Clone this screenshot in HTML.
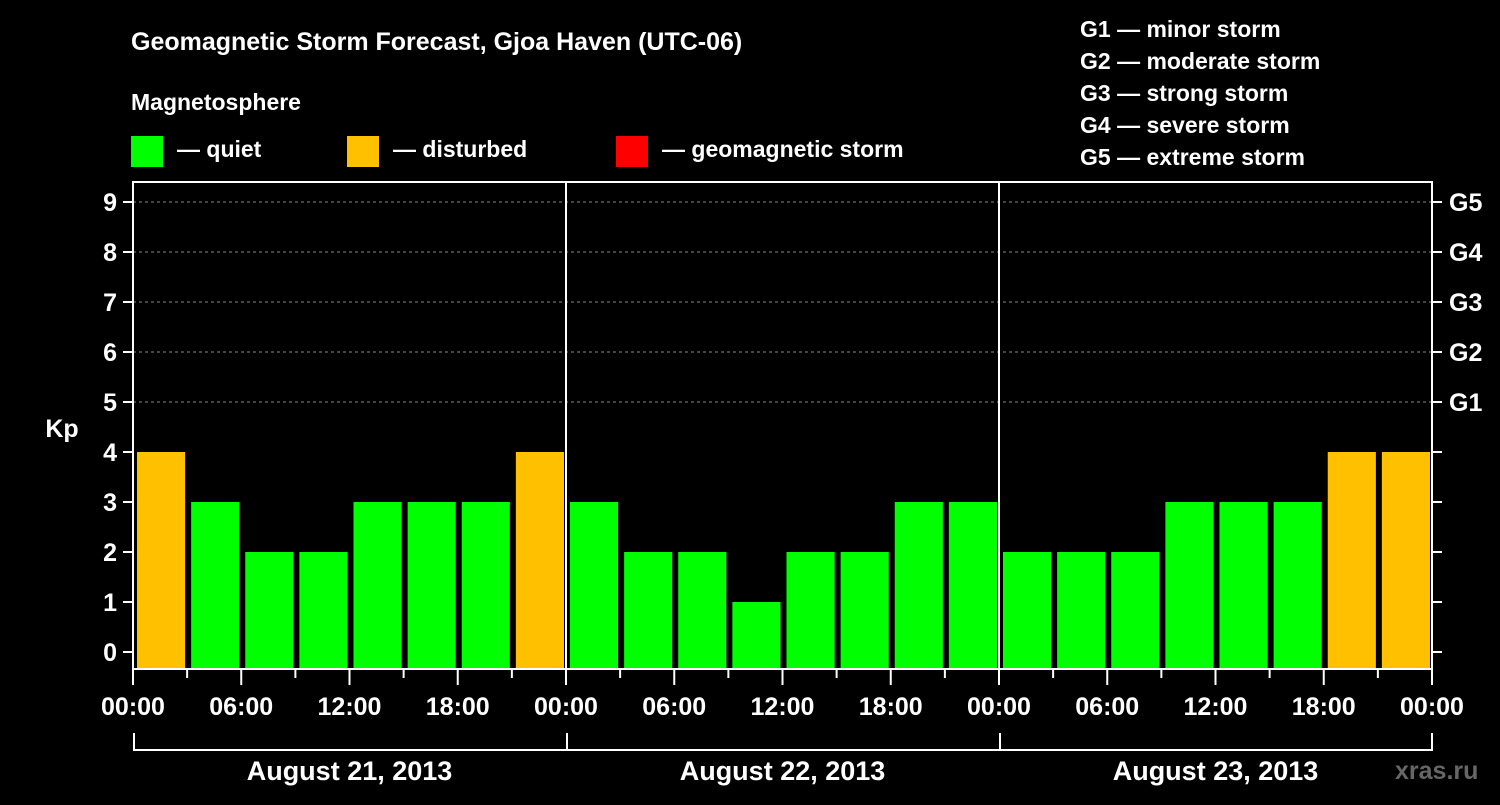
<!DOCTYPE html>
<html><head><meta charset="utf-8"><style>
body{margin:0;background:#000;width:1500px;height:800px;overflow:hidden}
svg{font-family:"Liberation Sans",sans-serif;font-weight:bold;fill:#fff}
</style></head><body>
<svg id="c" width="1500" height="800">
<text x="131" y="50" font-size="25">Geomagnetic Storm Forecast, Gjoa Haven (UTC-06)</text>
<text x="131" y="110" font-size="23">Magnetosphere</text>
<g><rect x="131" y="136" width="32" height="31" fill="#00ff00"/><text x="177" y="157" font-size="23">— quiet</text></g>
<g><rect x="347" y="136" width="32" height="31" fill="#ffc000"/><text x="393" y="157" font-size="23">— disturbed</text></g>
<g><rect x="616" y="136" width="32" height="31" fill="#ff0000"/><text x="662" y="157" font-size="23">— geomagnetic storm</text></g>
<g font-size="23">
<text x="1080" y="37">G1 — minor storm</text><text x="1080" y="69">G2 — moderate storm</text><text x="1080" y="101">G3 — strong storm</text><text x="1080" y="133">G4 — severe storm</text><text x="1080" y="165">G5 — extreme storm</text>
</g>
<text x="62" y="437" font-size="25" text-anchor="middle">Kp</text>
<text x="1395" y="779" font-size="25" fill="#555" style="fill:#666">xras.ru</text>
<g id="plot"></g>
</svg>
<script>
const days=["August 21, 2013","August 22, 2013","August 23, 2013"];
const kp=[4,3,2,2,3,3,3,4, 3,2,2,1,2,2,3,3, 2,2,2,3,3,3,4,4];
const yTicks=[0,1,2,3,4,5,6,7,8,9];
const gLabels=["G1","G2","G3","G4","G5"];
const xLabels=["00:00","06:00","12:00","18:00"];
const NS="http://www.w3.org/2000/svg";
const L=133,R=1432,T=182,B=669;
const y=v=>652-v*50;
const dayW=(R-L)/days.length, slot=dayW/8;
const x=i=>L+i*slot;
const g=document.getElementById('plot');
function mk(t,a){const e=document.createElementNS(NS,t);for(const k in a)e.setAttribute(k,a[k]);g.appendChild(e);return e;}
yTicks.forEach(v=>{
 if(v>=5){const e=mk('line',{x1:L,x2:R,y1:y(v),y2:y(v),stroke:'#888','stroke-dasharray':'3,3','stroke-width':1});
 
 }
 const t=mk('line',{x1:L-10,x2:L,y1:y(v),y2:y(v),stroke:'#fff','stroke-width':2});
 
 
 const t2=mk('line',{x1:R,x2:R+10,y1:y(v),y2:y(v),stroke:'#fff','stroke-width':2});
 
 
 const l=mk('text',{x:L-16,y:y(v)+9,'font-size':25,'text-anchor':'end'});l.textContent=v;
 
 
});
gLabels.forEach((s,i)=>{const l=mk('text',{x:R+17,y:y(5+i)+9,'font-size':25});l.textContent=s;
 
 });
kp.forEach((v,i)=>{
 const r=mk('rect',{x:x(i)+4,y:y(v),width:slot-6,height:B-1-y(v),fill:v>=5?'#ff0000':v>=4?'#ffc000':'#00ff00'});
 
 
});
for(let d=1;d<days.length;d++){const e=mk('line',{x1:L+d*dayW,x2:L+d*dayW,y1:T,y2:B,stroke:'#fff','stroke-width':2});
 
 }
const f=mk('rect',{x:L,y:T,width:R-L,height:B-T,fill:'none',stroke:'#fff','stroke-width':2});


for(let i=0;i<=kp.length;i++){
 const major=i%2==0;
 const t=mk('line',{x1:x(i),x2:x(i),y1:B,y2:B+(major?16:9),stroke:'#fff','stroke-width':2});
 
 
 if(major){const l=mk('text',{x:x(i),y:715,'font-size':25,'text-anchor':'middle'});
 l.textContent=xLabels[(i/2)%4];
 
 }
}
days.forEach((s,d)=>{
 const x0=L+d*dayW;
 const p=mk('path',{d:`M${x0+1},733V750H${x0+dayW}`+(d==days.length-1?'V733':''),stroke:'#fff','stroke-width':2,fill:'none'});
 
 
 const l=mk('text',{x:x0+dayW/2,y:780,'font-size':27,'text-anchor':'middle'});l.textContent=s;
 
 
});
</script>
</body></html>
